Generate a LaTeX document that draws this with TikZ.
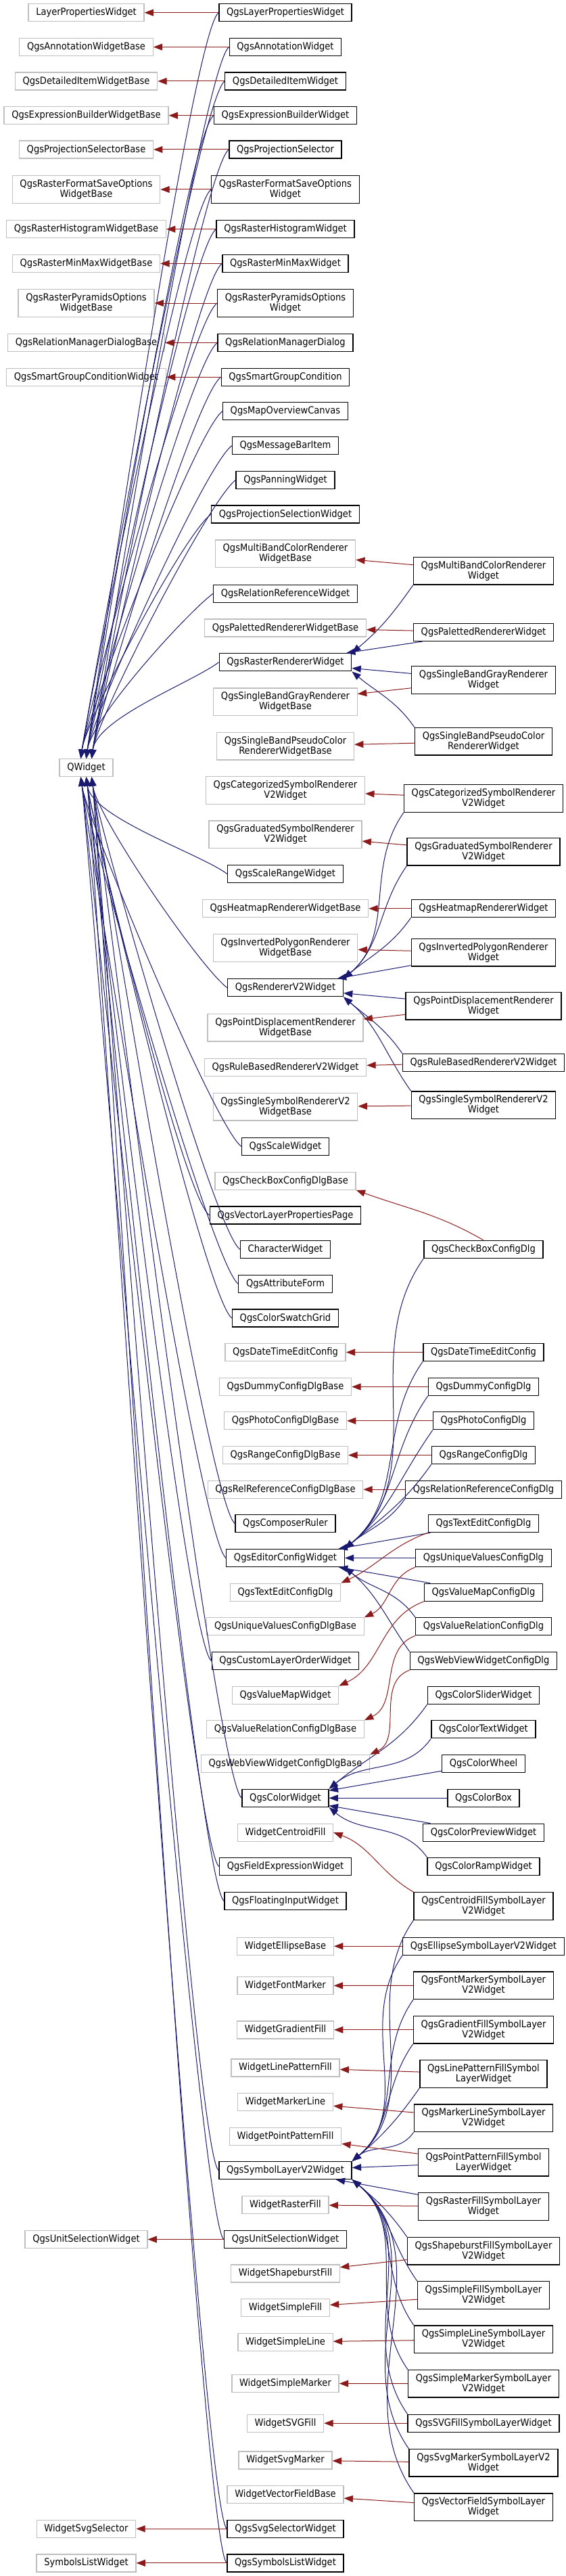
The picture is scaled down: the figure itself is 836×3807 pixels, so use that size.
\documentclass[tikz,border=0pt]{standalone}
\usepackage{fontspec}
\setmainfont{DejaVu Sans Condensed}
\usepackage{xcolor}
\usepackage{tikz}
\usetikzlibrary{arrows.meta,calc}
\definecolor{edgeblue}{HTML}{191970}
\definecolor{edgered}{HTML}{8B1A1A}
\definecolor{basegray}{HTML}{BFBFBF}

\begin{document}
\begin{tikzpicture}[x=0.75pt,y=-0.75pt,
  every node/.style={font=\fontsize{10.9pt}{11.25pt}\selectfont, align=center, inner xsep=8.4pt, inner ysep=4.3pt, minimum height=19.5pt, fill=white},
  docnode/.style={draw=black, line width=1pt},
  basenode/.style={draw=basegray, line width=1pt},
  pubedge/.style={draw=edgeblue, line width=0.75pt, -{Triangle[length=10pt,width=7.5pt]}},
  privedge/.style={draw=edgered, line width=0.75pt, -{Triangle[length=10pt,width=7.5pt]}}]
\useasboundingbox (0,0) rectangle (836,3807);

\foreach \nm/\yy/\txt in {layerPropBase/18.7/LayerPropertiesWidget, annotBase/69.5/QgsAnnotationWidgetBase,
  detItemBase/120/QgsDetailedItemWidgetBase, exprBase/170.7/QgsExpressionBuilderWidgetBase,
  projSelBase/221/QgsProjectionSelectorBase, rasterFmtBase/280/{QgsRasterFormatSaveOptions\\WidgetBase},
  rasterHistBase/338.7/QgsRasterHistogramWidgetBase, rasterMinMaxBase/389.5/QgsRasterMinMaxWidgetBase,
  rasterPyrBase/448/{QgsRasterPyramidsOptions\\WidgetBase}, relMgrBase/506.5/QgsRelationManagerDialogBase,
  smartGroupBase/557.3/QgsSmartGroupConditionWidget, QWidget/1134.7/QWidget,
  unitSelBase/3309.5/QgsUnitSelectionWidget, svgSelBase/3737.2/WidgetSvgSelector,
  symListBase/3787.8/SymbolsListWidget}
  \node[basenode] (\nm) at (127.5,\yy) {\txt};

\foreach \nm/\yy/\txt in {layerProp/18.7/QgsLayerPropertiesWidget, annot/69.5/QgsAnnotationWidget,
  detItem/120/QgsDetailedItemWidget, exprBuilder/170.7/QgsExpressionBuilderWidget,
  projSel/221/QgsProjectionSelector, rasterFmt/280/{QgsRasterFormatSaveOptions\\Widget},
  rasterHist/338.7/QgsRasterHistogramWidget, rasterMinMax/389.5/QgsRasterMinMaxWidget,
  rasterPyr/448/{QgsRasterPyramidsOptions\\Widget}, relMgr/506.5/QgsRelationManagerDialog,
  smartGroup/557.3/QgsSmartGroupCondition, mapOverview/607.8/QgsMapOverviewCanvas,
  msgBar/658.7/QgsMessageBarItem, panning/709.5/QgsPanningWidget,
  projSelW/760/QgsProjectionSelectionWidget, relRefW/877.3/QgsRelationReferenceWidget,
  rasterRend/978.7/QgsRasterRendererWidget, scaleRange/1291.7/QgsScaleRangeWidget,
  rendererV2/1459.8/QgsRendererV2Widget, scaleW/1694.3/QgsScaleWidget,
  vecLayerProps/1796/QgsVectorLayerPropertiesPage, charW/1846.5/CharacterWidget,
  attrForm/1897.3/QgsAttributeForm, swatchGrid/1948/QgsColorSwatchGrid,
  composerRuler/2251.5/QgsComposerRuler, editorCfg/2302.5/QgsEditorConfigWidget,
  customLayerOrder/2454.5/QgsCustomLayerOrderWidget, colorW/2657.3/QgsColorWidget,
  fieldExpr/2758.5/QgsFieldExpressionWidget, floatInput/2809.5/QgsFloatingInputWidget,
  symLayer/3207.5/QgsSymbolLayerV2Widget, unitSel/3309.5/QgsUnitSelectionWidget,
  svgSel/3737.2/QgsSvgSelectorWidget, symList/3787.8/QgsSymbolsListWidget}
  \node[docnode] (\nm) at (422,\yy) {\txt};

\foreach \nm/\yy/\txt in {mbcBase/818.3/{QgsMultiBandColorRenderer\\WidgetBase}, palBase/928/QgsPalettedRendererWidgetBase,
  sbgBase/1037.3/{QgsSingleBandGrayRenderer\\WidgetBase}, sbpcBase/1102.7/{QgsSingleBandPseudoColor\\RendererWidgetBase},
  catBase/1168/{QgsCategorizedSymbolRenderer\\V2Widget}, gradBase/1233.3/{QgsGraduatedSymbolRenderer\\V2Widget},
  heatBase/1342.7/QgsHeatmapRendererWidgetBase, invBase/1401/{QgsInvertedPolygonRenderer\\WidgetBase},
  pdBase/1518.7/{QgsPointDisplacementRenderer\\WidgetBase}, ruleBase/1577.3/QgsRuleBasedRendererV2Widget,
  ssBase/1635.8/{QgsSingleSymbolRendererV2\\WidgetBase}, cbBase/1745.2/QgsCheckBoxConfigDlgBase,
  dteBase/1998.5/QgsDateTimeEditConfig, dummyBase/2049.5/QgsDummyConfigDlgBase,
  photoBase/2099.8/QgsPhotoConfigDlgBase, rangeBase/2150.5/QgsRangeConfigDlgBase,
  relRefBase/2201.2/QgsRelReferenceConfigDlgBase, teBase/2353.2/QgsTextEditConfigDlg,
  uvBase/2403.8/QgsUniqueValuesConfigDlgBase, vmBase/2505.2/QgsValueMapWidget,
  vrBase/2555.8/QgsValueRelationConfigDlgBase, wvBase/2606.5/QgsWebViewWidgetConfigDlgBase,
  centroidBase/2708.2/WidgetCentroidFill, ellipseBase/2876.2/WidgetEllipseBase,
  fontMarkBase/2934.5/WidgetFontMarker, gradFillBase/2999.8/WidgetGradientFill,
  linePatBase/3055.8/WidgetLinePatternFill, markLineBase/3106.5/WidgetMarkerLine,
  pointPatBase/3157.2/WidgetPointPatternFill, rasterFillBase/3258.5/WidgetRasterFill,
  shapeBase/3359.8/WidgetShapeburstFill, simpleFillBase/3410.5/WidgetSimpleFill,
  simpleLineBase/3461.2/WidgetSimpleLine, simpleMarkBase/3522.5/WidgetSimpleMarker,
  svgFillBase/3581.2/WidgetSVGFill, svgMarkBase/3635.8/WidgetSvgMarker,
  vecFieldBase/3686.5/WidgetVectorFieldBase}
  \node[basenode] (\nm) at (422,\yy) {\txt};

\foreach \nm/\yy/\txt in {mbcW/843.8/{QgsMultiBandColorRenderer\\Widget}, palW/934.3/QgsPalettedRendererWidget,
  sbgW/1005/{QgsSingleBandGrayRenderer\\Widget}, sbpcW/1095.8/{QgsSingleBandPseudoColor\\RendererWidget},
  catW/1180/{QgsCategorizedSymbolRenderer\\V2Widget}, gradW/1258.7/{QgsGraduatedSymbolRenderer\\V2Widget},
  heatW/1342.7/QgsHeatmapRendererWidget, invW/1407.7/{QgsInvertedPolygonRenderer\\Widget},
  pdW/1486.7/{QgsPointDisplacementRenderer\\Widget}, ruleW/1570.3/QgsRuleBasedRendererV2Widget,
  ssW/1633.2/{QgsSingleSymbolRendererV2\\Widget}, cbW/1846.5/QgsCheckBoxConfigDlg,
  dteW/1998.5/QgsDateTimeEditConfig, dummyW/2049.5/QgsDummyConfigDlg,
  photoW/2099.8/QgsPhotoConfigDlg, rangeW/2150.5/QgsRangeConfigDlg,
  relRefW2/2201.2/QgsRelationReferenceConfigDlg, teW/2251.5/QgsTextEditConfigDlg,
  uvW/2302.5/QgsUniqueValuesConfigDlg, vmW/2353.2/QgsValueMapConfigDlg,
  vrW/2403.8/QgsValueRelationConfigDlg, wvW/2454.5/QgsWebViewWidgetConfigDlg,
  sliderW/2505.2/QgsColorSliderWidget, colTextW/2555.8/QgsColorTextWidget,
  wheelW/2606.5/QgsColorWheel, colBoxW/2657.3/QgsColorBox,
  previewW/2708.2/QgsColorPreviewWidget, rampW/2758.5/QgsColorRampWidget,
  centroidW/2817/{QgsCentroidFillSymbolLayer\\V2Widget}, ellipseW/2876.2/QgsEllipseSymbolLayerV2Widget,
  fontMarkW/2934.3/{QgsFontMarkerSymbolLayer\\V2Widget}, gradFillW/2999.8/{QgsGradientFillSymbolLayer\\V2Widget},
  linePatW/3065/{QgsLinePatternFillSymbol\\LayerWidget}, markLineW/3130.3/{QgsMarkerLineSymbolLayer\\V2Widget},
  pointPatW/3195.7/{QgsPointPatternFillSymbol\\LayerWidget}, rasterFillW/3261/{QgsRasterFillSymbolLayer\\Widget},
  shapeW/3326.7/{QgsShapeburstFillSymbolLayer\\V2Widget}, simpleFillW/3392/{QgsSimpleFillSymbolLayer\\V2Widget},
  simpleLineW/3457.3/{QgsSimpleLineSymbolLayer\\V2Widget}, simpleMarkW/3522.7/{QgsSimpleMarkerSymbolLayer\\V2Widget},
  svgFillW/3581.2/QgsSVGFillSymbolLayerWidget, svgMarkW/3639.8/{QgsSvgMarkerSymbolLayerV2\\Widget},
  vecFieldW/3705.2/{QgsVectorFieldSymbolLayer\\Widget}}
  \node[docnode] (\nm) at (715,\yy) {\txt};

\foreach \c [count=\i] in {layerProp, annot, detItem, exprBuilder, projSel, rasterFmt, rasterHist, rasterMinMax,
  rasterPyr, relMgr, smartGroup, mapOverview, msgBar, panning, projSelW, relRefW, rasterRend}
  \draw[pubedge] (\c.west) .. controls +(-40,30) and +(8,-60) .. ($(QWidget.north)+({mod(\i,3)*8-8},0)$);
\foreach \c [count=\i] in {scaleRange, rendererV2, scaleW, vecLayerProps, charW, attrForm, swatchGrid, composerRuler,
  editorCfg, customLayerOrder, colorW, fieldExpr, floatInput, symLayer, unitSel, svgSel, symList}
  \draw[pubedge] (\c.west) .. controls +(-40,-30) and +(8,60) .. ($(QWidget.south)+({mod(\i,3)*8-8},0)$);

\foreach \c/\p in {mbcW/rasterRend, catW/rendererV2, gradW/rendererV2, heatW/rendererV2,
  cbW/editorCfg, dteW/editorCfg, dummyW/editorCfg, photoW/editorCfg, rangeW/editorCfg, relRefW2/editorCfg,
  sliderW/colorW, colTextW/colorW, centroidW/symLayer, ellipseW/symLayer, fontMarkW/symLayer,
  gradFillW/symLayer, linePatW/symLayer, markLineW/symLayer}
  \draw[pubedge] (\c.south west) to[out=235,in=40] (\p.north east);
\foreach \c/\p in {palW/rasterRend, sbgW/rasterRend, invW/rendererV2, pdW/rendererV2, teW/editorCfg, uvW/editorCfg,
  vmW/editorCfg, wheelW/colorW, colBoxW/colorW, previewW/colorW, pointPatW/symLayer, rasterFillW/symLayer}
  \draw[pubedge] (\c) -- (\p);
\foreach \c/\p in {sbpcW/rasterRend, ruleW/rendererV2, ssW/rendererV2, vrW/editorCfg, wvW/editorCfg, rampW/colorW,
  shapeW/symLayer, simpleFillW/symLayer, simpleLineW/symLayer, simpleMarkW/symLayer, svgFillW/symLayer,
  svgMarkW/symLayer, vecFieldW/symLayer}
  \draw[pubedge] (\c.north west) to[out=125,in=-40] (\p.south east);

\foreach \c/\b in {layerProp/layerPropBase, annot/annotBase, detItem/detItemBase, exprBuilder/exprBase,
  projSel/projSelBase, rasterFmt/rasterFmtBase, rasterHist/rasterHistBase, rasterMinMax/rasterMinMaxBase,
  rasterPyr/rasterPyrBase, relMgr/relMgrBase, smartGroup/smartGroupBase, unitSel/unitSelBase,
  svgSel/svgSelBase, symList/symListBase, mbcW/mbcBase, palW/palBase, sbgW/sbgBase, sbpcW/sbpcBase,
  catW/catBase, gradW/gradBase, heatW/heatBase, invW/invBase, pdW/pdBase, ruleW/ruleBase, ssW/ssBase,
  dteW/dteBase, dummyW/dummyBase, photoW/photoBase, rangeW/rangeBase, relRefW2/relRefBase,
  ellipseW/ellipseBase, fontMarkW/fontMarkBase, gradFillW/gradFillBase, linePatW/linePatBase,
  markLineW/markLineBase, pointPatW/pointPatBase, rasterFillW/rasterFillBase, shapeW/shapeBase,
  simpleFillW/simpleFillBase, simpleLineW/simpleLineBase, simpleMarkW/simpleMarkBase,
  svgFillW/svgFillBase, svgMarkW/svgMarkBase, vecFieldW/vecFieldBase}
  \draw[privedge] (\c) -- (\b);
\foreach \c/\b in {teW/teBase, uvW/uvBase, vmW/vmBase, vrW/vrBase, wvW/wvBase}
  \draw[privedge] (\c.south west) to[out=200,in=25] (\b.north east);
\draw[privedge] (cbW.north) to[out=150,in=-20] (cbBase.south east);
\draw[privedge] (centroidW.north west) to[out=150,in=-20] (centroidBase.east);
\end{tikzpicture}
\end{document}
